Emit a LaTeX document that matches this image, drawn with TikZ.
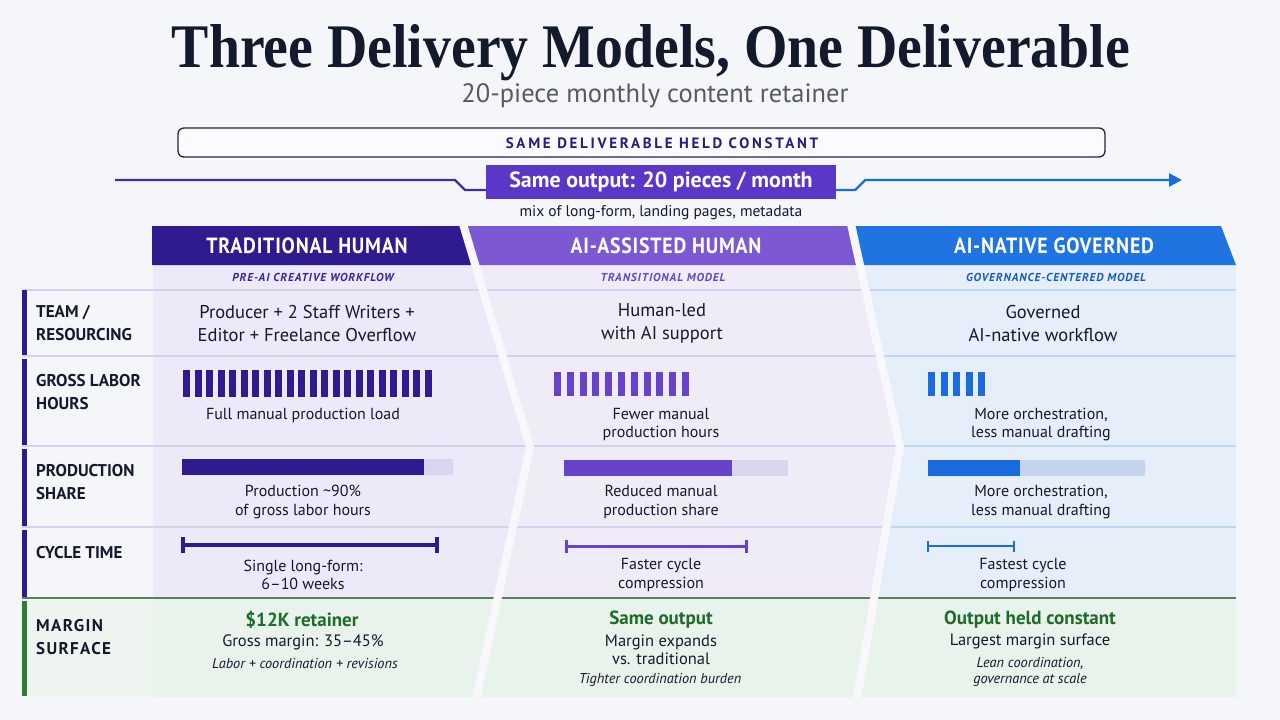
\documentclass[tikz,border=0pt]{standalone}
\usepackage{graphicx}
\usepackage{fontspec}
\setmainfont{PT Sans}
\newfontfamily\titlefont{Liberation Serif}
\newfontfamily\capsfont[LetterSpace=4]{PT Sans}
\newfontfamily\subcaps[LetterSpace=8]{PT Sans}
\newfontfamily\widecaps[LetterSpace=18]{PT Sans}
\usetikzlibrary{arrows.meta,calc,positioning}

\definecolor{pagebg}{HTML}{F5F6F9}
\definecolor{ink}{HTML}{141A2E}
\definecolor{greytxt}{HTML}{555A66}
\definecolor{indigo}{HTML}{2F1A8F}
\definecolor{violet}{HTML}{7D58D5}
\definecolor{violetbar}{HTML}{6643C8}
\definecolor{outfill}{HTML}{5B37C8}
\definecolor{azure}{HTML}{1F74E2}
\definecolor{azurebar}{HTML}{1A6BE0}
\definecolor{tintA}{HTML}{ECE9F8}
\definecolor{tintB}{HTML}{EFECF8}
\definecolor{tintC}{HTML}{E6EEF9}
\definecolor{mintbg}{HTML}{E8F3EB}
\definecolor{mintlbl}{HTML}{EEF4F0}
\definecolor{leaf}{HTML}{1F6B2A}
\definecolor{tabgreen}{HTML}{2E7D32}
\definecolor{rowline}{HTML}{D4D1ED}
\definecolor{rowlineC}{HTML}{C2D6F2}
\definecolor{trackA}{HTML}{D9D5EE}
\definecolor{trackC}{HTML}{C4D4EE}
\definecolor{stripe}{HTML}{F8F8FC}

\newcommand{\narrow}[1]{\scalebox{0.9}[1]{#1}}

\begin{document}
\begin{tikzpicture}[x=1pt, y=-1pt,
  hdr/.style={font=\capsfont\bfseries\fontsize{22}{24}\selectfont, text=white, inner sep=0pt},
  subhdr/.style={font=\subcaps\bfseries\itshape\fontsize{11.5}{14}\selectfont, inner sep=0pt},
  rowlbl/.style={anchor=west, align=left, inner sep=0pt, text=ink,
                 font=\bfseries\fontsize{17}{23}\selectfont},
  cell/.style={align=center, text=ink, inner sep=0pt, font=\fontsize{18.5}{23}\selectfont},
  captxt/.style={align=center, text=ink, inner sep=0pt, font=\fontsize{16}{18.5}\selectfont},
  gain/.style={text=leaf, inner sep=0pt, font=\bfseries\fontsize{19}{22}\selectfont},
  bodytxt/.style={align=center, text=ink, inner sep=0pt, font=\fontsize{16.5}{18.5}\selectfont},
  notetxt/.style={align=center, text=ink, inner sep=0pt, font=\itshape\fontsize{14.3}{16.5}\selectfont},
  tabbar/.style={line width=4.5pt},
  rowsep/.style={rowline, line width=1.2pt},
  feed/.style={line width=2.4pt},
  spanbar/.style={{Bar[width=#1]}-{Bar[width=#1]}},
]
% ---- tick-row macro: #1 x #2 y #3 count #4 pitch #5 colour #6 height ----
\newcommand{\hrsticks}[6]{%
  \foreach \i in {1,...,#3}{%
    \pgfmathsetmacro{\xl}{#1+(\i-1)*#4}%
    \fill[#5] (\xl,#2) rectangle ++(7,#6);%
  }%
}
% ---- share-bar macro: #1 x #2 y #3 full #4 filled #5 fill #6 track ----
\newcommand{\sharebar}[6]{%
  \fill[#6, rounded corners=2pt] (#1,#2) rectangle ++(#3,16);%
  \fill[#5] (#1,#2) rectangle ++(#4,16);%
}

\fill[pagebg] (0,0) rectangle (1280,720);
\useasboundingbox (0,0) rectangle (1280,720);

% ======================= title =======================
\node[anchor=base, text=ink, inner sep=0pt,
      font=\titlefont\bfseries\fontsize{62}{66}\selectfont] (title) at (651,67)
  {\scalebox{0.9}[1]{Three Delivery Models, One Deliverable}};
\node[text=greytxt, inner sep=0pt, font=\fontsize{26.5}{30}\selectfont] (subtitle) at (655,96)
  {20-piece monthly content retainer};

% ======================= held-constant banner =======================
\node[draw=ink!85!violet, line width=1.3pt, rounded corners=6pt, fill=white!60!pagebg,
      minimum width=927pt, minimum height=29pt] (heldbox) at (641.5,142.5) {};
\node[text=indigo!80!ink, inner sep=0pt, font=\widecaps\bfseries\fontsize{15}{17}\selectfont]
  (heldtxt) at (662,143) {SAME DELIVERABLE HELD CONSTANT};

\node[fill=outfill, text=white, minimum width=350pt, minimum height=34pt, inner sep=0pt,
      font=\bfseries\fontsize{22}{24}\selectfont] (outbox) at (661,182)
  {Same output: 20 pieces / month};
\node[text=ink, inner sep=0pt, font=\fontsize{15.5}{17}\selectfont, below=6pt of outbox] (mix)
  {mix of long-form, landing pages, metadata};

\coordinate (lstart) at (115,180);
\coordinate (rend) at (1182,180);
\draw[feed, indigo!75!violet] (lstart) -- ++(340,0) -- ++(10,10) -- ([yshift=-8pt]outbox.west);
\draw[feed, azurebar, -{Triangle[length=13pt,width=13pt]}]
  ([yshift=-8pt]outbox.east) -- ++(19,0) -- ++(10,-10) -- (rend);

% ======================= column fills =======================
\fill[tintA] (153,265) -- (475,265) -- (530,447) -- (476,697) -- (153,697) -- cycle;
\fill[tintB] (475,265) -- (860,265) -- (900,447) -- (857,697) -- (476,697) -- (530,447) -- cycle;
\fill[tintC] (860,265) -- (1236,265) -- (1236,697) -- (857,697) -- (900,447) -- cycle;
\fill[mintbg] (153,598) rectangle (1236,697);
\fill[mintlbl] (22,598) rectangle (153,697);

% row separators
\foreach \yy in {290,356,446,527}{\draw[rowsep] (22,\yy) -- (1236,\yy);}
\begin{scope}
  \clip (860,226) -- (1236,226) -- (1236,697) -- (857,697) -- (900,447) -- cycle;
  \foreach \yy in {290,356,446,527}{\draw[rowsep, rowlineC] (22,\yy) -- (1236,\yy);}
\end{scope}
\draw[tabgreen!45!gray, line width=1.6pt] (22,598) -- (1236,598);

% ======================= headers =======================
\fill[indigo] (152,226) -- (463,226) -- (475,265) -- (152,265) -- cycle;
\fill[violet] (463,226) -- (851,226) -- (860,265) -- (475,265) -- cycle;
\fill[azure] (851,226) -- (1221,226) -- (1236,265) -- (860,265) -- cycle;

% chevron separators
\draw[stripe, line width=8pt, line join=miter] (463,224) -- (530,447) -- (476,699);
\draw[stripe, line width=8pt, line join=miter] (851,224) -- (900,447) -- (857,699);

\node[hdr] (h1) at (307,246) {\narrow{TRADITIONAL HUMAN}};
\node[hdr] (h2) at (666,246) {\narrow{AI-ASSISTED HUMAN}};
\node[hdr] (h3) at (1054,246) {\narrow{AI-NATIVE GOVERNED}};
\node[subhdr, text=indigo!85!violet] (s1) at (313,277) {PRE-AI CREATIVE WORKFLOW};
\node[subhdr, text=violetbar] (s2) at (663,277) {TRANSITIONAL MODEL};
\node[subhdr, text=azurebar!85!black] (s3) at (1056,277) {GOVERNANCE-CENTERED MODEL};

% ======================= row labels =======================
\draw[tabbar, indigo] (24.5,290) -- (24.5,355);
\draw[tabbar, indigo] (24.5,359) -- (24.5,445);
\draw[tabbar, indigo] (24.5,449) -- (24.5,526);
\draw[tabbar, indigo] (24.5,530) -- (24.5,597);
\draw[tabbar, tabgreen] (24.5,601) -- (24.5,696);

\node[rowlbl] (lteam) at (36,323.5) {TEAM /\\RESOURCING};
\node[rowlbl] (lhrs) at (36,392) {GROSS LABOR\\HOURS};
\node[rowlbl] (lshare) at (36,482.5) {PRODUCTION\\SHARE};
\node[rowlbl] (lcycle) at (36,553) {CYCLE TIME};
\node[rowlbl, font=\subcaps\bfseries\fontsize{17}{23}\selectfont] (lmargin) at (36,637) {MARGIN\\SURFACE};

% ======================= team / resourcing =======================
\node[cell] (c1team) at (307,323.5) {Producer + 2 Staff Writers +\\Editor + Freelance Overflow};
\node[cell] (c2team) at (662,323.5) {Human-led\\with AI support};
\node[cell] (c3team) at (1043,323.5) {Governed\\AI-native workflow};

% ======================= gross labor hours =======================
\hrsticks{183}{370}{22}{11.5}{indigo}{27}
\hrsticks{554}{372}{11}{12.8}{violetbar}{24}
\hrsticks{928}{372}{5}{12.5}{azurebar}{24}
\node[captxt] (c1hrs) at (303,415) {Full manual production load};
\node[captxt] (c2hrs) at (661,424.5) {Fewer manual\\production hours};
\node[captxt] (c3hrs) at (1041,424.5) {More orchestration,\\less manual drafting};

% ======================= production share =======================
\sharebar{182}{459}{271}{242}{indigo}{trackA}
\sharebar{564}{460}{224}{168}{violetbar}{trackA}
\sharebar{928}{460}{217}{92}{azurebar}{trackC}
\node[captxt] (c1share) at (303,502) {Production \textasciitilde 90\%\\of gross labor hours};
\node[captxt] (c2share) at (661,502) {Reduced manual\\production share};
\node[captxt] (c3share) at (1041,502) {More orchestration,\\less manual drafting};

% ======================= cycle time =======================
\coordinate (t1a) at (181,545); \coordinate (t1b) at (439,545);
\coordinate (t2a) at (565,546); \coordinate (t2b) at (748,546);
\coordinate (t3a) at (927,546); \coordinate (t3b) at (1015,546);
\draw[indigo, line width=4pt, spanbar=16pt] (t1a) -- (t1b);
\draw[violetbar, line width=3pt, spanbar=13pt] (t2a) -- (t2b);
\draw[azurebar, line width=2pt, spanbar=11pt] (t3a) -- (t3b);
\node[captxt] (c1cyc) at (303,575) {Single long-form:\\6\textendash 10 weeks};
\node[captxt] (c2cyc) at (661,575) {Faster cycle\\compression};
\node[captxt] (c3cyc) at (1023,575) {Fastest cycle\\compression};

% ======================= margin surface =======================
\node[gain] (g1) at (302,620) {\$12K retainer};
\node[bodytxt] (b1) at (303,642) {Gross margin: 35\textendash 45\%};
\node[notetxt] (n1) at (305,664) {Labor + coordination + revisions};

\node[gain] (g2) at (661,620) {Same output};
\node[bodytxt] (b2) at (661,650) {Margin expands\\vs. traditional};
\node[notetxt] (n2) at (660,680) {Tighter coordination burden};

\node[gain] (g3) at (1030,620) {Output held constant};
\node[bodytxt] (b3) at (1030,641) {Largest margin surface};
\node[notetxt] (n3) at (1030,672) {Lean coordination,\\governance at scale};
\end{tikzpicture}
\end{document}
